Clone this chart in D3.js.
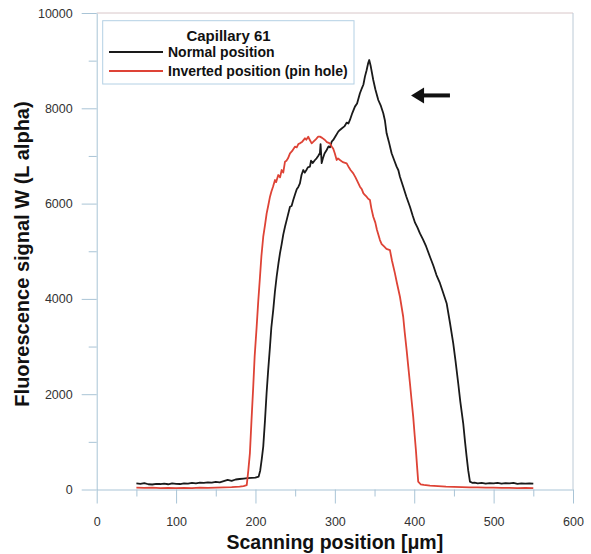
<!DOCTYPE html>
<html>
<head>
<meta charset="utf-8">
<script src="https://cdn.jsdelivr.net/npm/d3@7"></script>
<style>
  html, body { margin: 0; padding: 0; background: #fff; }
  svg { display: block; font-family: Arial, "Liberation Sans", sans-serif; }
</style>
</head>
<body>
<svg id="chart" width="591" height="554"></svg>
<script>
// ---------- data ----------
const xTicks = [0, 100, 200, 300, 400, 500, 600];
const xMinorTicks = [50, 150, 250, 350, 450, 550];
const yTicks = [0, 2000, 4000, 6000, 8000, 10000];
const yMinorTicks = [1000, 3000, 5000, 7000, 9000];

const legendTitle = "Capillary 61";
const seriesNames = ["Normal position", "Inverted position (pin hole)"];

const normalX = [50,55,60,65,70,75,80,85,90,95,100,105,110,115,120,125,130,135,140,145,150,155,160,165,170,175,180,185,190,195,200,204,206,208,209.8,212,214,216,218.3,220,222.4,224.5,226.7,229,230.9,233,235,237.2,240,243.5,245.5,247.6,250,252,254,256,258,260.2,262,264,266,268.6,270,272,275,277,279,281.2,282,283.4,285,287,289.7,292,294,296,298,301,304.3,306.4,309,312,315,317,319,322,325.3,328,331.6,334,336,337.9,340,342,343.3,345,348.4,351,354.7,358,361,363,365.2,368,371.5,375,377.8,380,382,386.1,390,394.6,398,401,404,407.2,411,415,419.8,424,428,432.4,436,440.8,445,449.1,452,455.4,458,461.7,464,466,468,470.2,473,476,480,485,490,495,500,505,510,515,520,525,530,535,540,545,550];
const normalY = [130,120,135,110,105,120,115,125,110,130,120,115,130,125,140,130,145,140,150,145,160,150,175,200,180,210,220,230,240,245,250,270,400,650,900,1450,2020,2500,3000,3400,3770,4150,4470,4750,4960,5150,5350,5515,5700,5935,5950,6075,6200,6300,6350,6425,6600,6705,6650,6700,6760,6775,6900,6850,6915,6950,7000,7060,7250,6850,6950,7050,7125,7200,7180,7300,7335,7420,7510,7545,7580,7620,7700,7680,7755,7900,8035,8100,8315,8420,8500,8665,8800,8950,9013,8900,8594,8400,8174,8050,7895,7750,7475,7300,7056,6900,6775,6700,6565,6355,6150,5935,5750,5600,5500,5375,5250,5100,4885,4700,4500,4330,4150,3910,3500,3070,2700,2230,1850,1390,1000,690,400,165,140,145,130,140,125,135,130,140,125,135,130,140,120,130,125,130,125];

const invertedX = [50,60,70,80,90,100,110,120,130,140,150,160,170,175,180,185,189,191,193,195,197.2,199,201.5,203.5,205.7,207.5,209.8,212,214.1,216,218.3,220,222,224.6,226,228.7,231,233,235,237.2,239,241,243.5,246,249.7,252,254,256,259,262.3,264,266.5,268,270.8,273,276,279,281.2,284,287.5,290,293.8,296,298,300,302.3,304,306.4,310,314.9,318,320,323.2,326,328,331.6,334,336,338,340,342,344.2,346,348.4,351,353,356.8,359,362,365,369.4,372,375.7,378,382,386.1,388,390.4,392.5,394.6,396.5,398.7,400.5,402.1,403.5,405,408,412,419.8,430,440,450,460,470,480,490,500,510,520,530,540,550];
const invertedY = [40,35,40,30,35,30,35,30,40,35,40,45,50,55,60,70,90,400,765,1450,2160,2800,3415,3950,4465,4900,5305,5550,5795,5950,6145,6250,6350,6495,6450,6600,6550,6705,6650,6880,6900,6950,7055,7100,7195,7180,7250,7265,7300,7370,7340,7405,7350,7265,7300,7350,7405,7405,7380,7335,7290,7265,7200,7150,7050,6915,6950,6915,6870,6845,6750,6700,6635,6550,6480,6355,6300,6215,6180,6145,6100,6075,5900,5725,5600,5450,5235,5150,5100,5050,5025,4800,4535,4350,4045,3625,3300,2930,2580,2230,1900,1530,1150,830,500,165,110,95,80,70,60,55,50,45,45,40,40,35,35,30,35,30];

// arrow annotation in data units: tip and tail
const arrowTip = [396, 8270];
const arrowTail = [445, 8270];

// ---------- layout ----------
const svg = d3.select("#chart");
const x = d3.scaleLinear().domain([0, 600]).range([96.7, 573]);
const y = d3.scaleLinear().domain([0, 10000]).range([489.5, 13]);

const axisColor = "#a9c4d6";
const labelColor = "#333";

// frame top and right
svg.append("line").attr("x1", x(0)).attr("x2", x(600)).attr("y1", y(10000)).attr("y2", y(10000))
  .attr("stroke", "#d8c6c8").attr("stroke-width", 1);
svg.append("line").attr("x1", x(600)).attr("x2", x(600)).attr("y1", y(10000)).attr("y2", y(0))
  .attr("stroke", "#bccad6").attr("stroke-width", 1);

function styleAxis(g) {
  g.selectAll("path, line").attr("stroke", axisColor).attr("stroke-width", 1);
  g.selectAll("text").attr("fill", labelColor).style("font-size", "12.5px")
    .style("font-family", "Arial, 'Liberation Sans', sans-serif");
}

// x minor
svg.append("g").attr("transform", `translate(0,${y(0)})`)
  .call(d3.axisBottom(x).tickValues(xMinorTicks).tickSize(7).tickFormat(""))
  .call(g => g.select(".domain").remove())
  .call(styleAxis);
// x major
svg.append("g").attr("transform", `translate(0,${y(0)})`)
  .call(d3.axisBottom(x).tickValues(xTicks).tickSize(14).tickSizeOuter(0).tickPadding(14).tickFormat(d3.format("d")))
  .call(styleAxis);
// y minor
svg.append("g").attr("transform", `translate(${x(0)},0)`)
  .call(d3.axisLeft(y).tickValues(yMinorTicks).tickSize(8).tickFormat(""))
  .call(g => g.select(".domain").remove())
  .call(styleAxis);
// y major
svg.append("g").attr("transform", `translate(${x(0)},0)`)
  .call(d3.axisLeft(y).tickValues(yTicks).tickSize(15).tickSizeOuter(0).tickPadding(9).tickFormat(d3.format("d")))
  .call(styleAxis);

// lines
const normalData = normalX.map((v, i) => [v, normalY[i]]);
const invertedData = invertedX.map((v, i) => [v, invertedY[i]]);
const line = d3.line().x(d => x(d[0])).y(d => y(d[1]));

svg.append("path").datum(normalData).attr("d", line)
  .attr("fill", "none").attr("stroke", "#1a1a1a").attr("stroke-width", 1.8).attr("stroke-linejoin", "round");
svg.append("path").datum(invertedData).attr("d", line)
  .attr("fill", "none").attr("stroke", "#de4336").attr("stroke-width", 1.8).attr("stroke-linejoin", "round");

// arrow
const tipX = x(arrowTip[0]), tipY = y(arrowTip[1]), tailX = x(arrowTail[0]);
svg.append("line").attr("x1", tipX + 8).attr("x2", tailX).attr("y1", tipY).attr("y2", tipY)
  .attr("stroke", "#111").attr("stroke-width", 4);
svg.append("path")
  .attr("d", `M${tipX},${tipY} L${tipX + 13},${tipY - 8} L${tipX + 13},${tipY + 8} Z`)
  .attr("fill", "#111");

// legend
const lg = svg.append("g");
lg.append("rect").attr("x", 102.7).attr("y", 20.7).attr("width", 251.3).attr("height", 63.3)
  .attr("fill", "#fff").attr("stroke", "#b3d0e4").attr("stroke-width", 1);
lg.append("text").attr("x", 228.5).attr("y", 40.5).attr("text-anchor", "middle")
  .style("font-size", "15px").style("font-weight", "bold").attr("fill", "#111").text(legendTitle);
const legColors = ["#1a1a1a", "#de4336"];
seriesNames.forEach((name, i) => {
  const ly = 52 + i * 19;
  lg.append("line").attr("x1", 109).attr("x2", 163).attr("y1", ly).attr("y2", ly)
    .attr("stroke", legColors[i]).attr("stroke-width", 1.8);
  lg.append("text").attr("x", 168).attr("y", ly + 5).style("font-size", "14px")
    .style("font-weight", "bold").attr("fill", "#111").text(name);
});

// axis titles
svg.append("text").attr("x", (x(0) + x(600)) / 2).attr("y", 549).attr("text-anchor", "middle")
  .style("font-size", "19.5px").style("font-weight", "bold").attr("fill", "#111")
  .text("Scanning position [μm]");
svg.append("text").attr("transform", "translate(29,254) rotate(-90)").attr("text-anchor", "middle")
  .style("font-size", "20px").style("font-weight", "bold").attr("fill", "#111")
  .text("Fluorescence signal W (L alpha)");
</script>
</body>
</html>
